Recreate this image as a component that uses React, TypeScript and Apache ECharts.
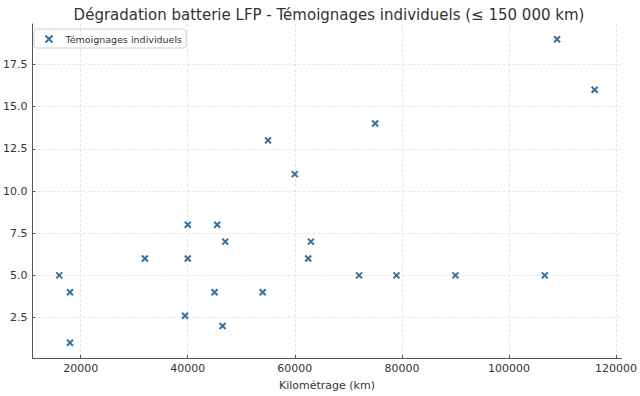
import React, { useEffect, useRef } from "react";
import * as echarts from "echarts";

const kilometrage = [16000, 18000, 18000, 32000, 40000, 40000, 39500, 45500, 45000, 47000, 46500, 54000, 55000, 60000, 62500, 63000, 72000, 75000, 79000, 90000, 106700, 109000, 116000];
const degradation = [5, 4, 1, 6, 8, 6, 2.6, 8, 4, 7, 2, 4, 13, 11, 6, 7, 5, 14, 5, 5, 5, 19, 16];
const xTicks = [20000, 40000, 60000, 80000, 100000, 120000];
const yTicks = [2.5, 5, 7.5, 10, 12.5, 15, 17.5];

const FONT = "DejaVu Sans";
const TEXT = "#333333";
const MARK = "#3571a0";
const CROSS = "path://M0,0L10,10M10,0L0,10";

export default function App() {
  const ref = useRef<HTMLDivElement>(null);
  useEffect(() => {
    if (!ref.current) return;
    const chart = echarts.init(ref.current, undefined, { renderer: "svg" });
    const points = kilometrage.map((x, i) => [x, degradation[i]]);
    chart.setOption({
      animation: false,
      backgroundColor: "#ffffff",
      textStyle: { fontFamily: FONT },
      title: {
        text: "Dégradation batterie LFP - Témoignages individuels (≤ 150 000 km)",
        left: 324,
        textAlign: "center",
        top: 2,
        textStyle: { fontFamily: FONT, fontSize: 15, fontWeight: "normal", color: TEXT },
      },
      legend: {
        left: 34,
        top: 29,
        orient: "vertical",
        borderColor: "#d0d0d0",
        borderWidth: 1,
        borderRadius: 3,
        padding: [4, 4, 3, 9],
        itemWidth: 7,
        itemHeight: 7,
        itemGap: 6,
        textStyle: { fontFamily: FONT, fontSize: 9.5, color: TEXT, padding: [0, 0, 0, 8] },
        data: [{ name: "Témoignages individuels", icon: CROSS, itemStyle: { color: "none", borderColor: MARK, borderWidth: 2 } }],
      },
      grid: { left: 30, right: 18, top: 24, bottom: 35, containLabel: false },
      xAxis: {
        type: "value",
        min: 11000,
        max: 121000,
        name: "Kilométrage (km)",
        nameLocation: "middle",
        nameGap: 22,
        nameTextStyle: { fontFamily: FONT, fontSize: 11, color: TEXT },
        axisLine: { show: true, lineStyle: { color: "#555555", width: 1 } },
        axisTick: { show: true, inside: true, length: 3, customValues: xTicks, lineStyle: { color: "#555555" } },
        axisLabel: { customValues: xTicks, fontFamily: FONT, fontSize: 11, color: TEXT, margin: 5, formatter: (v: number) => String(v) },
        splitLine: { show: true, lineStyle: { color: "#e0e0e0", type: [3, 2], width: 0.8 } },
      },
      yAxis: {
        type: "value",
        min: 0.1,
        max: 19.9,
        axisLine: { show: true, lineStyle: { color: "#555555", width: 1 } },
        axisTick: { show: true, inside: true, length: 3, customValues: yTicks, lineStyle: { color: "#555555" } },
        axisLabel: { customValues: yTicks, fontFamily: FONT, fontSize: 11, color: TEXT, margin: 5, formatter: (v: number) => v.toFixed(1) },
        splitLine: { show: true, lineStyle: { color: "#e0e0e0", type: [3, 2], width: 0.8 } },
      },
      series: [
        {
          name: "Témoignages individuels",
          type: "scatter",
          data: points,
          symbol: CROSS,
          symbolSize: 6,
          itemStyle: { color: "none", borderColor: MARK, borderWidth: 2, opacity: 1 },
        },
      ],
    });
    return () => chart.dispose();
  }, []);
  return <div ref={ref} style={{ width: 640, height: 396, position: "absolute", left: 0, top: 0 }} />;
}
